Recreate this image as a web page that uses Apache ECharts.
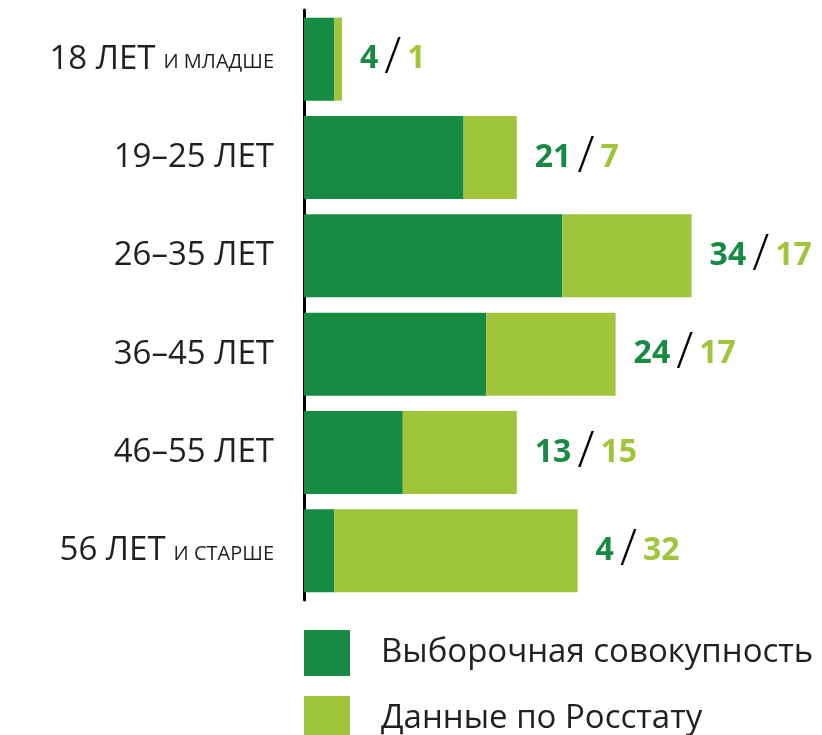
<!DOCTYPE html>
<html>
<head>
    <meta charset="utf-8">
    <title>ECharts</title>
    <script src="https://cdn.jsdelivr.net/npm/echarts@6/dist/echarts.min.js"></script>
    <style>
        html, body { margin: 0; padding: 0; background: #fff; }
    </style>
</head>
<body>
    <div id="main" style="width: 822px;height:735px;"></div>
    <script type="text/javascript">
        // возрастные группы: крупная часть и мелкая приписка
        var ageMain = ['18 ЛЕТ', '19–25 ЛЕТ', '26–35 ЛЕТ', '36–45 ЛЕТ', '46–55 ЛЕТ', '56 ЛЕТ'];
        var ageSmall = ['И МЛАДШЕ', '', '', '', '', 'И СТАРШЕ'];
        var sampleVals = [4, 21, 34, 24, 13, 4];
        var rosstatVals = [1, 7, 17, 17, 15, 32];
        var seriesNames = ['Выборочная совокупность', 'Данные по Росстату'];

        var dark = '#178a43';
        var light = '#a0c43a';
        var textColor = '#231f20';
        var font = 'Open Sans';

        // одна легенда на серию, чтобы вторая строка не переносилась
        function legendFor(name, top) {
            return {
                orient: 'vertical',
                left: 304,
                top: top,
                padding: 0,
                itemWidth: 46,
                itemHeight: 46,
                icon: 'rect',
                selectedMode: false,
                data: [name],
                textStyle: {
                    fontSize: 33,
                    color: textColor,
                    fontFamily: font,
                    padding: [0, 0, 0, 26]
                }
            };
        }

        var myChart = echarts.init(document.getElementById('main'));
        myChart.setOption({
            animation: false,
            textStyle: { fontFamily: font },
            grid: { left: 304, top: 10, width: 456, height: 590 },
            legend: [legendFor(seriesNames[0], 630), legendFor(seriesNames[1], 696)],
            xAxis: {
                type: 'value',
                min: 0,
                max: 60,
                show: false
            },
            yAxis: {
                type: 'category',
                inverse: true,
                data: ageMain,
                axisLine: { show: true, lineStyle: { color: '#000', width: 3 } },
                axisTick: { show: false },
                axisLabel: {
                    margin: 30,
                    formatter: function (v, i) {
                        return ageSmall[i] ? '{big|' + v + '}{small|' + ageSmall[i] + '}' : '{big|' + v + '}';
                    },
                    rich: {
                        big: { fontSize: 33, color: textColor, fontFamily: font },
                        small: { fontSize: 20, color: textColor, fontFamily: font, padding: [6, 0, 0, 8] }
                    }
                }
            },
            series: [{
                name: seriesNames[0],
                type: 'bar',
                stack: 'total',
                barWidth: 83,
                itemStyle: { color: dark },
                data: sampleVals
            }, {
                name: seriesNames[1],
                type: 'bar',
                stack: 'total',
                barWidth: 83,
                itemStyle: { color: light },
                data: rosstatVals,
                label: {
                    show: true,
                    position: 'right',
                    distance: 18,
                    formatter: function (p) {
                        return '{a|' + sampleVals[p.dataIndex] + '}{s|/}{b|' + p.value + '}';
                    },
                    rich: {
                        a: { fontSize: 32, fontWeight: 'bold', color: dark, fontFamily: font },
                        s: { fontSize: 50, fontWeight: 300, color: '#000', fontFamily: font, padding: [0, 6, 0, 6] },
                        b: { fontSize: 32, fontWeight: 'bold', color: light, fontFamily: font }
                    }
                }
            }]
        });
    </script>
</body>
</html>
